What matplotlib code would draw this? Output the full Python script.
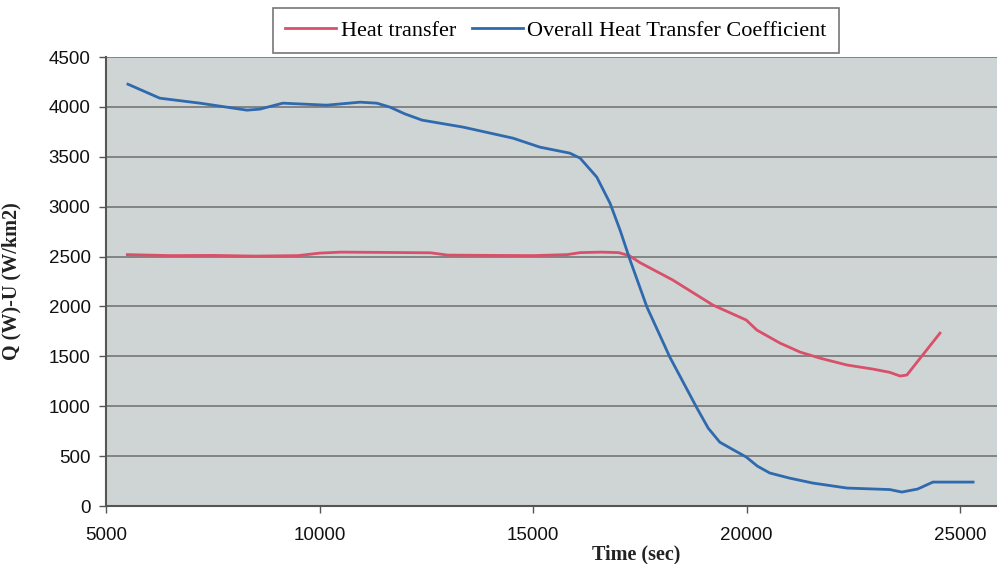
import matplotlib.pyplot as plt
import numpy as np

# --- data ---
heat_t = [5500, 6500, 7500, 8500, 9500, 10000, 10500, 11500, 12600, 13000, 14000,
          15000, 15800, 16100, 16600, 17000, 17250, 17500, 18270, 19210, 19990,
          20240, 20780, 21250, 21710, 22350, 22950, 23350, 23590, 23750, 24525]
heat_q = [2520, 2510, 2512, 2505, 2510, 2535, 2545, 2542, 2538, 2515, 2512,
          2510, 2520, 2540, 2545, 2540, 2510, 2440, 2265, 2014, 1864,
          1763, 1633, 1543, 1483, 1413, 1373, 1340, 1303, 1313, 1733]

coef_t = [5515, 6260, 7200, 8300, 8600, 9140, 10170, 10950, 11340, 11650, 12000,
          12400, 13360, 14530, 15160, 15860, 16100, 16490, 16800, 17035, 17270,
          17665, 18200, 18835, 19100, 19370, 19700, 19990, 20250, 20540, 21000,
          21550, 22350, 23350, 23630, 24000, 24360, 25300]
coef_u = [4228, 4088, 4038, 3968, 3978, 4038, 4018, 4048, 4038, 3998, 3930,
          3868, 3798, 3687, 3597, 3537, 3487, 3297, 3036, 2766, 2465,
          1994, 1493, 982, 780, 640, 560, 491, 400, 331, 280,
          230, 180, 165, 140, 170, 240, 240]

y_ticks = [0, 500, 1000, 1500, 2000, 2500, 3000, 3500, 4000, 4500]
x_ticks = [5000, 10000, 15000, 20000, 25000]

fig = plt.figure(figsize=(9.97, 5.64), dpi=100)
ax = fig.add_axes([0.1063, 0.1028, 0.8937, 0.796])
ax.set_facecolor('#cfd4d4')

ax.plot(heat_t, heat_q, color='#d9506a', linewidth=2.0, label='Heat transfer')
ax.plot(coef_t, coef_u, color='#2f6aae', linewidth=2.0,
        label='Overall Heat Transfer Coefficient')

ax.set_xlim(5000, 25860)
ax.set_ylim(0, 4500)
ax.set_xticks(x_ticks)
ax.set_yticks(y_ticks)

ax.yaxis.grid(True, color='#7d7d7d', linewidth=1.3)
ax.set_axisbelow(True)

for side in ['top', 'right']:
    ax.spines[side].set_visible(False)
for side in ['left', 'bottom']:
    ax.spines[side].set_color('#555555')
    ax.spines[side].set_linewidth(1.5)

ax.tick_params(axis='both', colors='#555555', labelcolor='#111111',
               labelsize=13.5, length=5, width=1)
ax.tick_params(axis='x', pad=10)
ax.tick_params(axis='y', pad=6)
for lab in ax.get_xticklabels() + ax.get_yticklabels():
    lab.set_family('Liberation Sans')

ax.set_xlabel('Time (sec)', family='Liberation Serif', fontweight='bold',
              fontsize=14.5, color='#222222')
ax.xaxis.set_label_coords(0.595, -0.085)
ax.set_ylabel('Q (W)-U (W/km2)', family='Liberation Serif', fontweight='bold',
              fontsize=14.5, color='#222222')
ax.yaxis.set_label_coords(-0.095, 0.5)

leg = ax.legend(loc='lower center', bbox_to_anchor=(0.505, 1.008), ncol=2,
                frameon=True, fancybox=False, edgecolor='#555555',
                prop={'family': 'Liberation Serif', 'size': 16},
                handlelength=2.3, handletextpad=0.2, columnspacing=0.7,
                borderpad=0.55, borderaxespad=0.0)
leg.get_frame().set_linewidth(1.2)

fig.savefig('out.png', dpi=100)
